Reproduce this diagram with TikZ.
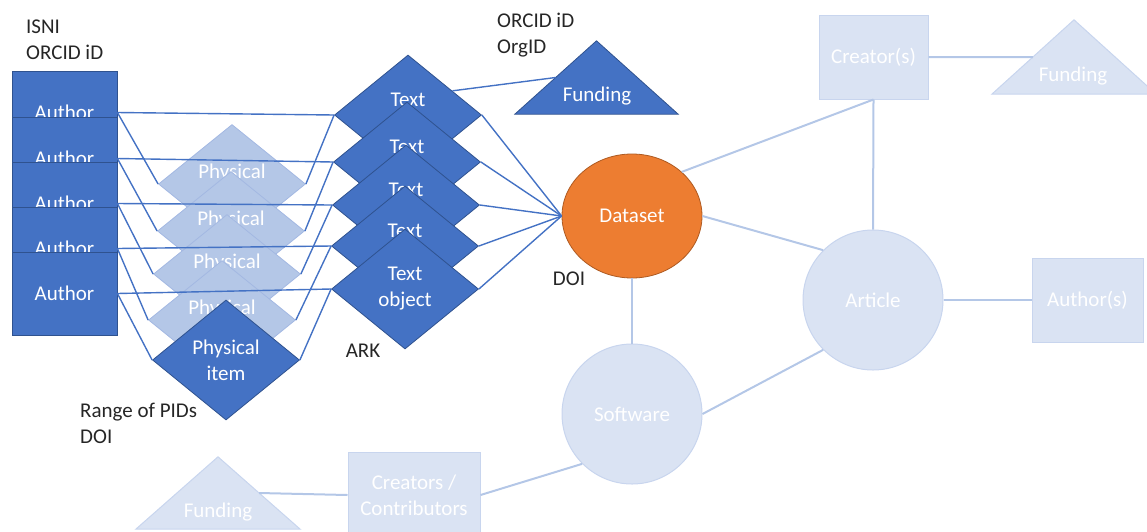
\documentclass[tikz,border=0pt]{standalone}
\usepackage{fontspec}
\setmainfont{Carlito}
\usetikzlibrary{shapes.geometric,calc}
\definecolor{dblue}{HTML}{4472C4}
\definecolor{dedge}{HTML}{2F528F}
\definecolor{midblue}{HTML}{B4C7E7}
\definecolor{midedge}{HTML}{A3B8E2}
\definecolor{pale}{HTML}{DAE3F3}
\definecolor{paleedge}{HTML}{C8D5EE}
\definecolor{paleline}{HTML}{B4C7E7}
\definecolor{orng}{HTML}{ED7D31}
\definecolor{orngedge}{HTML}{AE5A21}
\definecolor{ink}{HTML}{262626}
\begin{document}
\begin{tikzpicture}[x=1pt,y=-1pt,
  every node/.style={font=\fontsize{21}{26}\selectfont},
  authorbox/.style={rectangle, fill=dblue, draw=dedge, line width=0.8pt,
    minimum width=105pt, minimum height=83pt, inner sep=0pt, text=white},
  physlight/.style={diamond, fill=midblue, draw=midedge, line width=0.8pt,
    minimum width=147pt, minimum height=119pt, inner sep=0pt, text=white, align=center},
  darkdia/.style={diamond, fill=dblue, draw=dedge, line width=0.8pt,
    minimum width=147pt, minimum height=120pt, inner sep=0pt, text=white, align=center},
  palebox/.style={rectangle, fill=pale, draw=paleedge, line width=1pt,
    inner sep=0pt, text=white, align=center},
  palecirc/.style={circle, fill=pale, draw=paleedge, line width=1pt,
    minimum size=140pt, inner sep=0pt, text=white},
  triframe/.style={rectangle, draw=none, inner sep=0pt},
  lbl/.style={text=ink, inner sep=0pt, align=left},
  link/.style={draw=dblue, line width=1.4pt},
  palelink/.style={draw=paleline, line width=2pt}
]
\useasboundingbox (0,0) rectangle (1147,531);

% stacked author records
\foreach \i/\y in {1/112.5,2/158.5,3/203.5,4/248.5,5/293.5}
  \node[authorbox] (a\i) at (64.5,\y) {Author};

% physical items
\foreach \i/\x/\y in {1/232/184,2/231/231,3/227/274,4/222/320}
  \node[physlight] (p\i) at (\x,\y) {Physical\\\phantom{item}};
\node[darkdia] (p5) at (226,360) {Physical\\item};

% text objects
\foreach \i/\x/\y in {1/408/115,2/407/162,3/406/205,4/405/246}
  \node[darkdia] (t\i) at (\x,\y) {Text\\\phantom{object}};
\node[darkdia] (t5) at (405,289) {Text\\object};

% dataset
\node[ellipse, fill=orng, draw=orngedge, line width=0.8pt, minimum width=140pt,
  minimum height=124pt, inner sep=0pt, text=white] (ds) at (632,216) {Dataset};

% funding (top)
\node[triframe, minimum width=163pt, minimum height=73pt] (fa) at (596.5,77.5) {};
\filldraw[fill=dblue, draw=dedge, line width=0.8pt]
  (fa.north) -- (fa.south east) -- (fa.south west) -- cycle;
\node[text=white, inner sep=0pt] (fatxt) at (597,96) {Funding};

% faded context
\node[palebox, minimum width=109pt, minimum height=84pt] (cr) at (873.5,57) {Creator(s)};
\node[triframe, minimum width=164pt, minimum height=74pt] (fb) at (1074,57) {};
\filldraw[fill=pale, draw=paleedge, line width=1pt]
  (fb.north) -- (fb.south east) -- (fb.south west) -- cycle;
\node[text=white, inner sep=0pt] (fbtxt) at (1073,76) {Funding};

\node[palecirc] (art) at (873,300) {Article};
\node[palebox, minimum width=111pt, minimum height=84pt] (au) at (1087.5,300) {Author(s)};
\node[palecirc] (sw) at (632,414) {Software};
\node[palebox, minimum width=132pt, minimum height=86pt] (cc) at (414,495) {Creators /\\Contributors};
\node[triframe, minimum width=164pt, minimum height=72pt] (fc) at (218,493) {};
\filldraw[fill=pale, draw=paleedge, line width=1pt]
  (fc.north) -- (fc.south east) -- (fc.south west) -- cycle;
\node[text=white, inner sep=0pt] (fctxt) at (218,512) {Funding};

% identifier labels
\node[lbl, anchor=west] (isni) at (26,40) {ISNI\\ORCID iD};
\node[lbl, anchor=west] (orcid) at (497,35) {ORCID iD\\OrgID};
\node[lbl] (ark) at (363,351) {ARK};
\node[lbl] (doi) at (569,279) {DOI};
\node[lbl, anchor=west] (range) at (80,423) {Range of PIDs\\DOI};

% links between records
\foreach \i in {1,...,5} {
  \draw[link] (a\i.east) -- (t\i.west);
  \draw[link] (a\i.east) -- (p\i.west);
  \draw[link] (p\i.east) -- (t\i.west);
  \draw[link] (t\i.east) -- (ds.west);
}
\draw[link] ($(t1.north)!0.6!(t1.east)$) -- ($(fa.north)!0.5!(fa.south west)$);

% faded links
\draw[palelink] (ds.north east) -- (cr.south);
\draw[palelink] (cr.south) -- (art.north);
\draw[palelink] (cr.east) -- ($(fb.north)!0.5!(fb.south west)$);
\draw[palelink] (ds.east) -- (art.north west);
\draw[palelink] (ds.south) -- (sw.north);
\draw[palelink] (sw.east) -- (art.south west);
\draw[palelink] (art.east) -- (au.west);
\draw[palelink] (sw.south west) -- (cc.east);
\draw[palelink] (cc.west) -- ($(fc.north)!0.5!(fc.south east)$);
\end{tikzpicture}
\end{document}
